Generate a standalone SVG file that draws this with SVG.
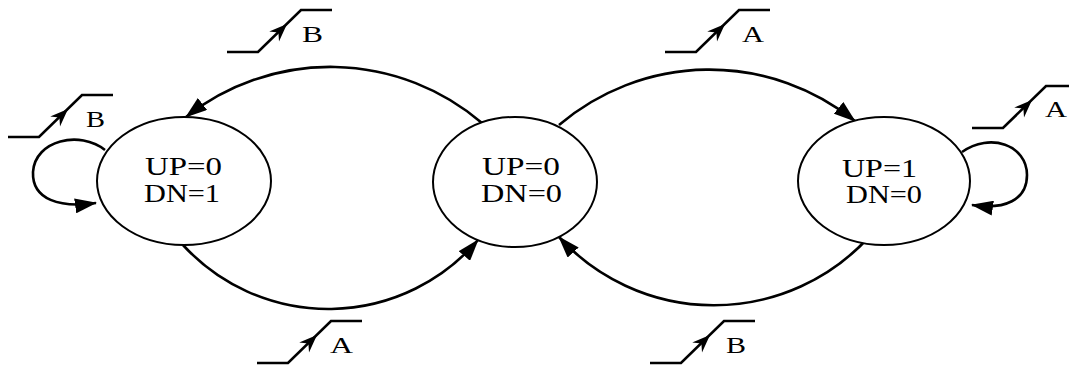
<svg xmlns="http://www.w3.org/2000/svg" xmlns:xlink="http://www.w3.org/1999/xlink" width="1069" height="370" viewBox="0 0 1069 370">
  <style>
    .state { fill: #fff; stroke: #000; stroke-width: 2; }
    .label { font-family: "Liberation Serif", "Times New Roman", serif; font-size: 26px; fill: #000; }
    .sig { font-family: "Liberation Serif", "Times New Roman", serif; font-size: 24px; fill: #000; }
    .arc { fill: none; stroke: #000; stroke-width: 2.6; marker-end: url(#head); }
    .edge { fill: none; stroke: #000; stroke-width: 2.6; stroke-linejoin: miter; }
  </style>
  <defs>
    <marker id="head" markerUnits="userSpaceOnUse" viewBox="0 0 22 15" refX="21" refY="7.5" markerWidth="22" markerHeight="15" orient="auto">
      <path d="M0,0 L22,7.5 L0,15 Z" fill="#000"/>
    </marker>
    <!-- rising-edge trigger symbol -->
    <g id="rise">
      <path class="edge" d="M0,0 H31 L74,-42 H105"/>
      <path d="M0,0 L-18,-7 L-12,0 L-18,7 Z" fill="#000" transform="translate(60,-28) rotate(-44.3)"/>
    </g>
  </defs>

  <!-- transitions -->
  <g id="connectors">
    <path class="arc" d="M482,123 A233,233 0 0 0 186,117"/>
    <path class="arc" d="M559,125 A232,232 0 0 1 855,121"/>
    <path class="arc" d="M183,245 A197,197 0 0 0 478,240"/>
    <path class="arc" d="M868,238 A210,210 0 0 1 559,237"/>
    <path class="arc" d="M105,150 C80,130 35,140 33,172 C32,200 60,208 96,203"/>
    <path class="arc" d="M962,152 C990,132 1027,145 1027,175 C1027,200 1005,210 972,205"/>
  </g>

  <!-- transition triggers -->
  <g id="triggers">
    <use xlink:href="#rise" x="227" y="52"/>
    <text class="sig" x="302" y="42" textLength="21" lengthAdjust="spacingAndGlyphs">B</text>
    <use xlink:href="#rise" x="665" y="52"/>
    <text class="sig" x="742" y="42" textLength="22" lengthAdjust="spacingAndGlyphs">A</text>
    <use xlink:href="#rise" x="257" y="363"/>
    <text class="sig" x="330" y="353" textLength="23" lengthAdjust="spacingAndGlyphs">A</text>
    <use xlink:href="#rise" x="650" y="363"/>
    <text class="sig" x="726" y="353" textLength="20" lengthAdjust="spacingAndGlyphs">B</text>
    <use xlink:href="#rise" x="8" y="137"/>
    <text class="sig" x="86" y="127" textLength="19" lengthAdjust="spacingAndGlyphs">B</text>
    <use xlink:href="#rise" x="972" y="128"/>
    <text class="sig" x="1045" y="117" textLength="22" lengthAdjust="spacingAndGlyphs">A</text>
  </g>

  <g id="state-down">
    <ellipse class="state" cx="184" cy="181" rx="87" ry="64"/>
    <text class="label" x="145" y="175" textLength="77" lengthAdjust="spacingAndGlyphs">UP=0</text>
    <text class="label" x="144" y="202" textLength="76" lengthAdjust="spacingAndGlyphs">DN=1</text>
  </g>

  <g id="state-idle">
    <ellipse class="state" cx="515" cy="182" rx="82" ry="65"/>
    <text class="label" x="482" y="175" textLength="78" lengthAdjust="spacingAndGlyphs">UP=0</text>
    <text class="label" x="481" y="202" textLength="81" lengthAdjust="spacingAndGlyphs">DN=0</text>
  </g>

  <g id="state-up">
    <ellipse class="state" cx="884" cy="181" rx="86" ry="64"/>
    <text class="label" x="842" y="177" textLength="75" lengthAdjust="spacingAndGlyphs">UP=1</text>
    <text class="label" x="846" y="203" textLength="76" lengthAdjust="spacingAndGlyphs">DN=0</text>
  </g>
</svg>
